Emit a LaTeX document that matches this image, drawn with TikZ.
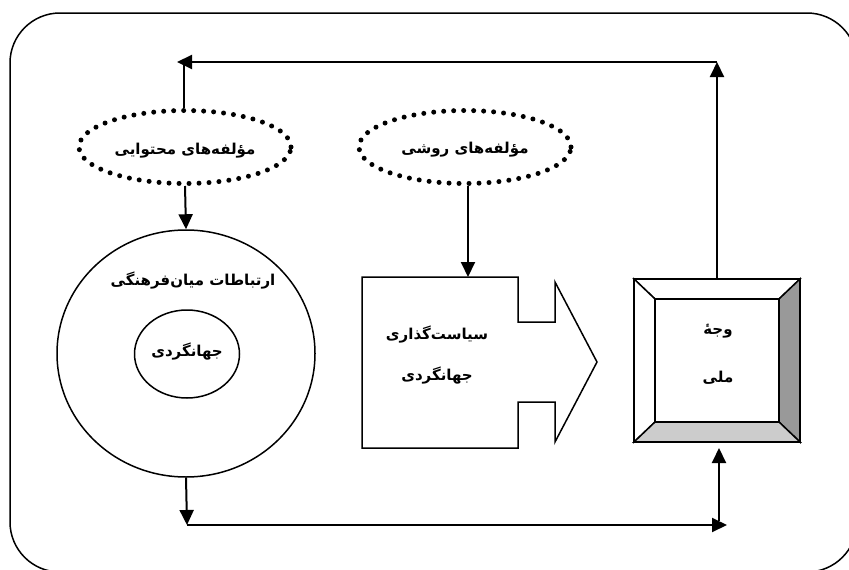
\documentclass[tikz,border=0pt]{standalone}
\usepackage{fontspec}
\usetikzlibrary{shapes.geometric,arrows.meta}
\TeXXeTstate=1
\newfontfamily\arabicfont[Script=Arabic]{DejaVu Sans}
\definecolor{bevdark}{RGB}{153,153,153}
\definecolor{bevlight}{RGB}{204,204,204}
\tikzset{
  conn/.style={line width=2pt,-{Triangle[length=15pt,width=14pt]}},
  plainline/.style={line width=2pt},
  dotell/.style={ellipse, draw, line width=5pt, dash pattern=on 0pt off 10pt, line cap=round,
    minimum width=212pt, minimum height=73pt, inner sep=0pt},
  ring/.style={ellipse, draw, line width=1.5pt, inner sep=0pt},
  lbl/.style={font=\arabicfont\bfseries\fontsize{15}{18}\selectfont, inner sep=0pt},
  bev/.style={draw, line width=1.5pt},
}
\begin{document}
\begin{tikzpicture}[x=1pt,y=-1pt]
\useasboundingbox (0,0) rectangle (849,570);
% outer frame
\draw[line width=1.5pt, rounded corners=50pt] (10,13) rectangle (857,572);

% dotted ellipses
\node[dotell] (e1) at (185,147) {};
\node[lbl] (e1t) at (185,151) {\beginR مؤلفه‌های محتوایی\endR};
\node[dotell] (e2) at (465,147) {};
\node[lbl] (e2t) at (465,150) {\beginR مؤلفه‌های روشی\endR};

% circles
\node[ring, minimum width=258pt, minimum height=247pt] (c1) at (186,353.5) {};
\node[lbl] (c1t) at (193,281) {\beginR ارتباطات میان‌فرهنگی\endR};
\node[ring, minimum width=105pt, minimum height=88pt] (c2) at (187,354) {};
\node[lbl] (c2t) at (187,352) {\beginR جهانگردی\endR};

% block arrow (policy)
\draw[line width=1.5pt] (362,277) -- (518,277) -- (518,322) -- (555,322) -- (555,282)
  -- (597,362) -- (555,442) -- (555,402) -- (518,402) -- (518,448) -- (362,448) -- cycle;
\coordinate (poltop) at (468,277);
\node[lbl] (p1) at (437,335) {\beginR سیاست‌گذاری\endR};
\node[lbl] (p2) at (437,376) {\beginR جهانگردی\endR};

% bevel box (national face)
\filldraw[bev, fill=white] (634,279) -- (800,279) -- (779,299) -- (655,299) -- cycle;
\filldraw[bev, fill=white] (634,279) -- (655,299) -- (655,422) -- (634,442) -- cycle;
\filldraw[bev, fill=bevdark] (800,279) -- (800,442) -- (779,422) -- (779,299) -- cycle;
\filldraw[bev, fill=bevlight] (634,442) -- (800,442) -- (779,422) -- (655,422) -- cycle;
\draw[line width=1.5pt] (655,299) rectangle (779,422);
\node[draw, line width=2pt, minimum width=166pt, minimum height=163pt, inner sep=0pt] (nat) at (717,360.5) {};
\node[lbl] (n1) at (718,331) {\beginR وجهٔ\endR};
\node[lbl] (n2) at (718,378) {\beginR ملی\endR};

% connector coordinates
\coordinate (topL) at (177,62);
\coordinate (topM) at (184,62);
\coordinate (topR) at (717,62);
\coordinate (botL) at (187,525);
\coordinate (botR) at (727,525);
\coordinate (botV) at (719,521);

% connectors
\draw[plainline] (e1.north -| topM) -- (topM);
\draw[conn] (topR) -- (topL);
\draw[conn] (nat.north) -- (topR);
\draw[conn] (e1.south) -- (c1.north);
\draw[conn] (e2.south -| poltop) -- (poltop);
\draw[conn] (c1.south) -- (botL);
\draw[conn] (botL) -- (botR);
\draw[conn] (botV) -- ([yshift=-5pt]nat.south -| botV);
\end{tikzpicture}
\end{document}
